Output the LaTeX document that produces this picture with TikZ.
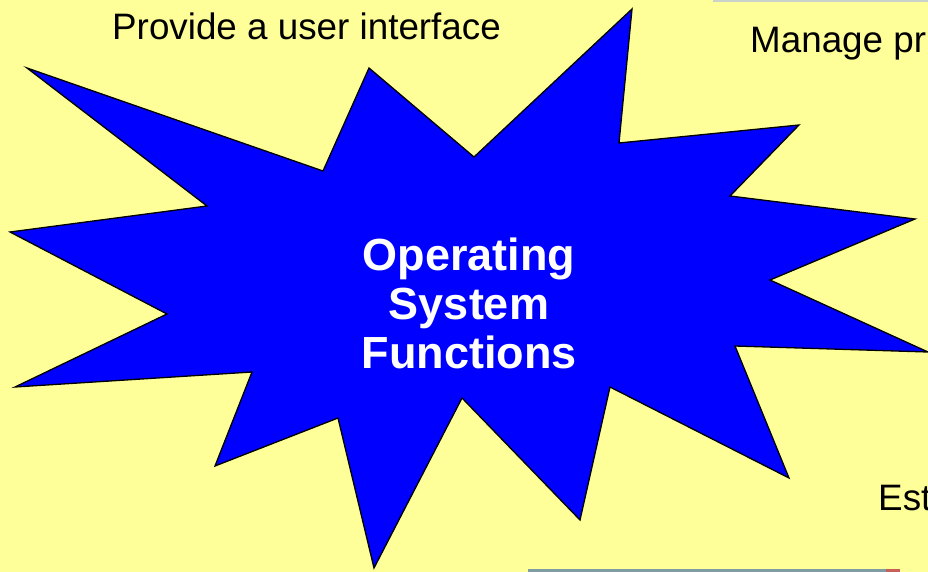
\documentclass[tikz,border=0pt]{standalone}
\usepackage{fontspec}
\setmainfont{Liberation Sans}
\usetikzlibrary{positioning}
\definecolor{hinter}{HTML}{FFFF99}
\definecolor{stern}{HTML}{0000FF}
\definecolor{streifen}{HTML}{C9D3CB}
\definecolor{bildrand}{HTML}{7E9CA3}
\definecolor{rotrand}{HTML}{C8605A}

\begin{document}
\begin{tikzpicture}[
        x=1pt, y=-1pt,
        every node/.style={inner sep=0pt},
        aufgabe/.style={anchor=base west, black, font=\fontsize{36.8}{40}\selectfont},
        mitte/.style={white, align=center, font=\fontsize{45}{49}\selectfont\bfseries},
      ]
      \useasboundingbox (0,0) rectangle (928,572);
      \clip (0,0) rectangle (928,572);
      \fill[hinter] (0,0) rectangle (928,572);

      % Reste anderer Bilder am Rand
      \fill[streifen] (713,0) rectangle (928,2.5);
      \fill[bildrand] (528,569) rectangle (900,572);
      \fill[rotrand] (886,569) rectangle (900,572);

      % Stern
      \filldraw[fill=stern, draw=black, line width=1.3pt, line join=miter]
        (27,68) -- (207,206) -- (10,232) -- (167,314) -- (15,387)
        -- (252,372) -- (215,466) -- (338,418) -- (374,568) -- (462,398)
        -- (580,520) -- (610,387) -- (789,478) -- (735,346) -- (928,352)
        -- (770,280) -- (915,219) -- (730,196) -- (799,125) -- (619,143)
        -- (632,9) -- (474,157) -- (369,68) -- (323,171) -- cycle;

      \node[mitte] (osf) at (469,303) {Operating\\System\\Functions};

      % Texte rundherum (am Rand abgeschnitten)
      \node[aufgabe] (ui) at (112,40) {Provide a user interface};
      \node[aufgabe] (procs) at (750,53) {Manage pr};
      \node[aufgabe] (est) at (878,510) {Est};
    \end{tikzpicture}
\end{document}
